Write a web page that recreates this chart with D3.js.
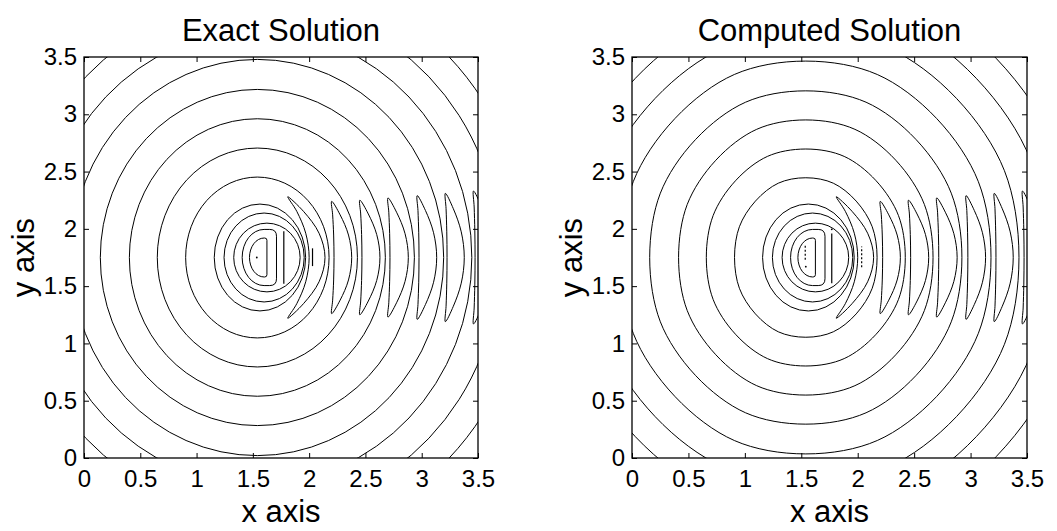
<!DOCTYPE html>
<html><head><meta charset="utf-8">
<script src="https://cdn.jsdelivr.net/npm/d3@7"></script>
<style>
body{margin:0;background:#fff}
svg{display:block}
text{font-family:"Liberation Sans",Arial,Helvetica,sans-serif;fill:#000}
</style></head>
<body><svg id="chart" width="1057" height="531"></svg>
<script>
// ---- data ----
const tickValues = [0, 0.5, 1, 1.5, 2, 2.5, 3, 3.5];
const tickLabels = ["0", "0.5", "1", "1.5", "2", "2.5", "3", "3.5"];
const titles = ["Exact Solution", "Computed Solution"];
const xLabel = "x axis";
const yLabel = "y axis";

// ring contours: ellipses around the source  [centreX, rx, ry]
const exactRings = [
  [1.625, 0.295, 0.300], [1.600, 0.356, 0.388], [1.563, 0.406, 0.466],
  [1.54, 0.637, 0.702], [1.54, 0.889, 0.955], [1.54, 1.137, 1.211],
  [1.54, 1.395, 1.467], [1.54, 1.655, 1.729], [1.54, 1.905, 1.980],
  [1.54, 2.155, 2.230], [1.54, 2.405, 2.480]
];
// D shapes: [arcCentreX, rx, ry, straightEdgeX, corner]
const exactDShapes = [[1.60, 0.13, 0.17, 1.625, 0.02], [1.60, 0.195, 0.245, 1.71, 0.06]];
// crescent and lenses: [tipX, leftMidX, rightMidX, topY, bottomY]
const exactLenses = [
  [1.81, 2.000, 2.141, 2.28, 1.22],
  [2.20, 2.221, 2.378, 2.24, 1.26],
  [2.45, 2.469, 2.629, 2.25, 1.25],
  [2.70, 2.718, 2.881, 2.27, 1.23],
  [2.96, 2.976, 3.133, 2.29, 1.21],
  [3.21, 3.225, 3.378, 2.31, 1.19],
  [3.46, 3.474, 3.630, 2.33, 1.17]
];
// vertical segments: [x, y0, y1, dotted]
const exactSegments = [[1.775, 1.52, 1.98, 0], [2.03, 1.675, 1.83, 0]];
const exactDots = [[1.535, 1.75]];

const compRings = [
  [1.625, 0.295, 0.300], [1.600, 0.356, 0.388], [1.563, 0.406, 0.466],
  [1.54, 0.637, 0.702], [1.54, 0.889, 0.955], [1.54, 1.137, 1.211],
  [1.54, 1.395, 1.467], [1.54, 1.655, 1.729], [1.54, 1.905, 1.980],
  [1.54, 2.155, 2.230], [1.54, 2.405, 2.480]
];
const compDShapes = [[1.60, 0.13, 0.17, 1.625, 0.02], [1.60, 0.195, 0.245, 1.71, 0.06]];
const compLenses = [
  [1.81, 2.000, 2.141, 2.28, 1.22],
  [2.20, 2.221, 2.378, 2.24, 1.26],
  [2.45, 2.469, 2.629, 2.25, 1.25],
  [2.70, 2.718, 2.881, 2.27, 1.23],
  [2.96, 2.976, 3.133, 2.29, 1.21],
  [3.21, 3.225, 3.378, 2.31, 1.19],
  [3.46, 3.474, 3.630, 2.33, 1.17]
];
const compSegments = [[1.77, 1.525, 1.96, 0], [2.035, 1.665, 1.845, 1], [1.535, 1.73, 1.86, 1]];
const compDots = [[1.77, 1.996], [1.54, 1.67]];

// ---- drawing ----
const svg = d3.select("#chart");
const panels = [
  {title: titles[0], left: 84, right: 478, rings: exactRings, ds: exactDShapes,
   lenses: exactLenses, segs: exactSegments, dots: exactDots, faceted: false},
  {title: titles[1], left: 632, right: 1027, rings: compRings, ds: compDShapes,
   lenses: compLenses, segs: compSegments, dots: compDots, faceted: true}
];
const plotTop = 57, plotBottom = 458, yMid = 1.75;

panels.forEach((p, i) => {
  const x = d3.scaleLinear().domain([0, 3.5]).range([p.left, p.right]);
  const y = d3.scaleLinear().domain([0, 3.5]).range([plotBottom, plotTop]);
  const g = svg.append("g");
  const clipId = "clip" + i;
  svg.append("clipPath").attr("id", clipId).append("rect")
    .attr("x", p.left).attr("y", plotTop).attr("width", p.right - p.left).attr("height", plotBottom - plotTop);
  const c = g.append("g").attr("clip-path", `url(#${clipId})`)
    .attr("fill", "none").attr("stroke", "#000").attr("stroke-width", 1);

  // rings: smooth ellipses for the exact solution; the computed solution's larger rings
  // are drawn through 8 nodes so that they show the slight faceting of the reference
  const ringLine = d3.line().x(q => x(q[0])).y(q => y(q[1])).curve(d3.curveCardinalClosed.tension(0.0));
  const angles = d3.range(8).map(k => Math.PI / 8 + k * Math.PI / 4);
  c.selectAll("path.ring").data(p.rings).join("path").attr("class", "ring")
    .attr("d", d => {
      if (p.faceted && d[1] > 0.6) {
        return ringLine(angles.map(a => [d[0] + d[1] * Math.cos(a), yMid + d[2] * Math.sin(a)]));
      }
      const X = x(d[0]), Y = y(yMid), RX = x(d[0] + d[1]) - X, RY = Y - y(yMid + d[2]);
      return `M${X - RX},${Y}A${RX},${RY} 0 1 0 ${X + RX},${Y}A${RX},${RY} 0 1 0 ${X - RX},${Y}Z`;
    });

  c.selectAll("path.d").data(p.ds).join("path").attr("class", "d")
    .attr("d", d => {
      const [acx, rx, ry, xe, cr] = d;
      const X = x(acx), E = x(xe), T = y(yMid + ry), B = y(yMid - ry);
      const RX = x(acx + rx) - X, RY = B - y(yMid);
      const C = x(xe) - x(xe - cr);
      const pa = d3.path();
      pa.moveTo(X, T);
      pa.lineTo(E - C, T); pa.quadraticCurveTo(E, T, E, T + C); pa.lineTo(E, B - C); pa.quadraticCurveTo(E, B, E - C, B);
      pa.lineTo(X, B);
      return pa.toString() + `A${RX},${RY} 0 0 1 ${X},${T}Z`;
    });

  // lenses: nodes on both edges, joined by a closed Catmull-Rom curve (rounded tips)
  const lensLine = d3.line().x(q => x(q[0])).y(q => y(q[1])).curve(d3.curveCatmullRomClosed.alpha(0.5));
  const quad = (p0, p1, p2, t) => [(1 - t) * (1 - t) * p0[0] + 2 * t * (1 - t) * p1[0] + t * t * p2[0],
                                     (1 - t) * (1 - t) * p0[1] + 2 * t * (1 - t) * p1[1] + t * t * p2[1]];
  c.selectAll("path.lens").data(p.lenses).join("path").attr("class", "lens")
    .attr("d", d => {
      const [tx, lx, rxm, ty, by] = d;
      const midY = (ty + by) / 2;
      const top = [tx, ty], bot = [tx, by];
      const rc = [2 * rxm - tx, midY], lc = [2 * lx - tx, midY];
      const ts = [0.12, 0.3, 0.5, 0.7, 0.88];
      const pts = [top].concat(ts.map(t => quad(top, rc, bot, t)), [bot], ts.map(t => quad(bot, lc, top, t)));
      return lensLine(pts);
    });

  c.selectAll("line.seg").data(p.segs).join("line").attr("class", "seg")
    .attr("x1", d => x(d[0])).attr("x2", d => x(d[0]))
    .attr("y1", d => y(d[1])).attr("y2", d => y(d[2]))
    .attr("stroke-width", 1.2)
    .attr("stroke-dasharray", d => d[3] ? "2,2" : null);
  c.selectAll("circle.dot").data(p.dots).join("circle").attr("class", "dot")
    .attr("cx", d => x(d[0])).attr("cy", d => y(d[1])).attr("r", 0.9).attr("fill", "#000").attr("stroke", "none");

  g.append("rect").attr("x", p.left).attr("y", plotTop).attr("width", p.right - p.left).attr("height", plotBottom - plotTop)
    .attr("fill", "none").attr("stroke", "#000").attr("stroke-width", 1.3);

  const ax = d3.axisBottom(x).tickValues(tickValues).tickFormat((d, k) => tickLabels[k]).tickSizeInner(-5).tickSizeOuter(0).tickPadding(12);
  const ay = d3.axisLeft(y).tickValues(tickValues).tickFormat((d, k) => tickLabels[k]).tickSizeInner(-5).tickSizeOuter(0).tickPadding(7);
  const axT = d3.axisTop(x).tickValues(tickValues).tickFormat("").tickSizeInner(-5).tickSizeOuter(0);
  const ayR = d3.axisRight(y).tickValues(tickValues).tickFormat("").tickSizeInner(-5).tickSizeOuter(0);
  [[ax, `translate(0,${plotBottom})`], [ay, `translate(${p.left},0)`], [axT, `translate(0,${plotTop})`], [ayR, `translate(${p.right},0)`]]
    .forEach(([a, t]) => {
      const ag = g.append("g").attr("transform", t).call(a);
      ag.select(".domain").remove();
      ag.selectAll("line").attr("stroke", "#000");
      ag.selectAll("text").attr("font-size", 24).attr("font-family", '"Liberation Sans",Arial,sans-serif').attr("fill", "#000");
    });

  g.append("text").attr("x", (p.left + p.right) / 2).attr("y", 41).attr("text-anchor", "middle")
    .attr("font-size", 31).text(p.title);
  g.append("text").attr("x", (p.left + p.right) / 2).attr("y", 522).attr("text-anchor", "middle")
    .attr("font-size", 31).text(xLabel);
  g.append("text").attr("transform", `translate(${p.left - 50},${(plotTop + plotBottom) / 2}) rotate(-90)`)
    .attr("text-anchor", "middle").attr("font-size", 31).text(yLabel);
});
</script></body></html>
